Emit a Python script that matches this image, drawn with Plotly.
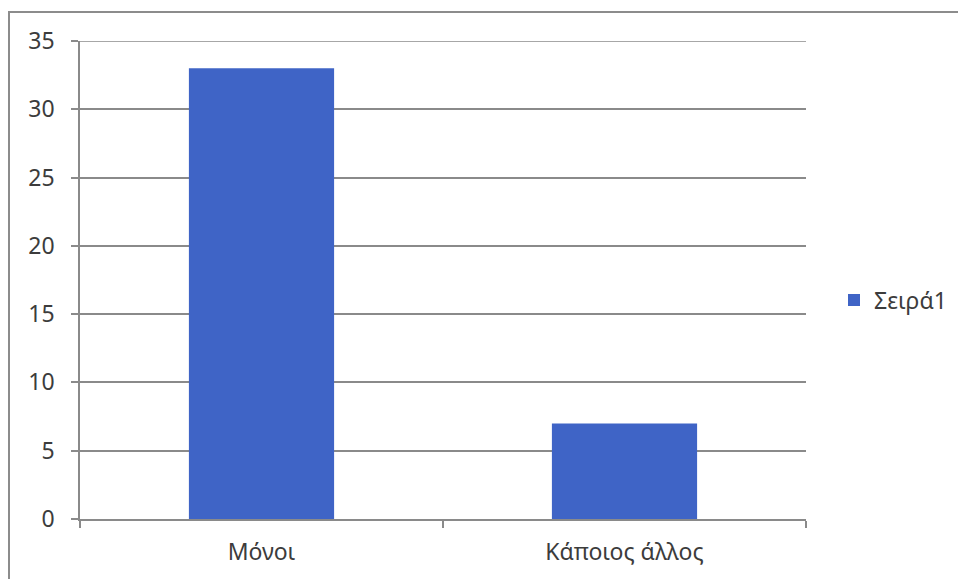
import plotly.graph_objects as go

# Chart data
categories = ["Μόνοι", "Κάποιος άλλος"]
values = [33, 7]
series_name = "Σειρά1"
y_ticks = [0, 5, 10, 15, 20, 25, 30, 35]

BAR_COLOR = "#3f64c6"
GRID = "#8a8a8a"
TEXT = "#3c3c3c"
FONT = "Noto Sans"
FS = 23

fig = go.Figure(
    go.Bar(
        x=categories,
        y=values,
        name=series_name,
        marker=dict(color=BAR_COLOR, line=dict(width=0)),
        width=0.4,
        showlegend=True,
    )
)

W, H = 958, 579
L, R, T, B = 80, 152, 41, 60
pw, ph = W - L - R, H - T - B

def px_x(x):
    return (x - L) / pw

def px_y(y):
    return (H - B - y) / ph

fig.update_layout(
    width=W,
    height=H,
    margin=dict(l=L, r=R, t=T, b=B, pad=0, autoexpand=False),
    paper_bgcolor="white",
    plot_bgcolor="white",
    font=dict(family=FONT, size=FS, color=TEXT),
    showlegend=True,
    legend=dict(
        x=px_x(834),
        y=px_y(300),
        xanchor="left",
        yanchor="middle",
        font=dict(family=FONT, size=FS, color=TEXT),
        bgcolor="rgba(0,0,0,0)",
        itemclick=False,
    ),
    xaxis=dict(
        type="category",
        automargin=False,
        showgrid=False,
        showline=True,
        linecolor=GRID,
        linewidth=1.5,
        ticks="outside",
        tickson="boundaries",
        ticklen=7,
        tickcolor=GRID,
        tickwidth=1.5,
        ticklabelstandoff=12,
        tickfont=dict(family=FONT, size=FS, color=TEXT),
        fixedrange=True,
    ),
    yaxis=dict(
        range=[0, 35],
        automargin=False,
        tickvals=y_ticks,
        showgrid=True,
        gridcolor=GRID,
        gridwidth=1.5,
        zeroline=False,
        showline=True,
        linecolor=GRID,
        linewidth=1.5,
        ticks="outside",
        ticklen=7,
        tickcolor=GRID,
        tickwidth=1.5,
        ticklabelstandoff=12,
        tickfont=dict(family=FONT, size=FS, color=TEXT),
        fixedrange=True,
    ),
    shapes=[
        # top gridline at the axis maximum
        dict(
            type="line",
            xref="paper",
            yref="y",
            x0=0,
            x1=1,
            y0=y_ticks[-1],
            y1=y_ticks[-1],
            line=dict(color=GRID, width=1.5),
            layer="below",
        ),
        # outer chart frame (top and left edges visible, rest runs off the page)
        dict(
            type="rect",
            xref="paper",
            yref="paper",
            x0=px_x(9),
            x1=px_x(W + 20),
            y0=px_y(H + 20),
            y1=px_y(12),
            line=dict(color="#8c8c8c", width=2),
            fillcolor="rgba(0,0,0,0)",
            layer="below",
        ),
    ],
)

fig.write_html("out.html")
